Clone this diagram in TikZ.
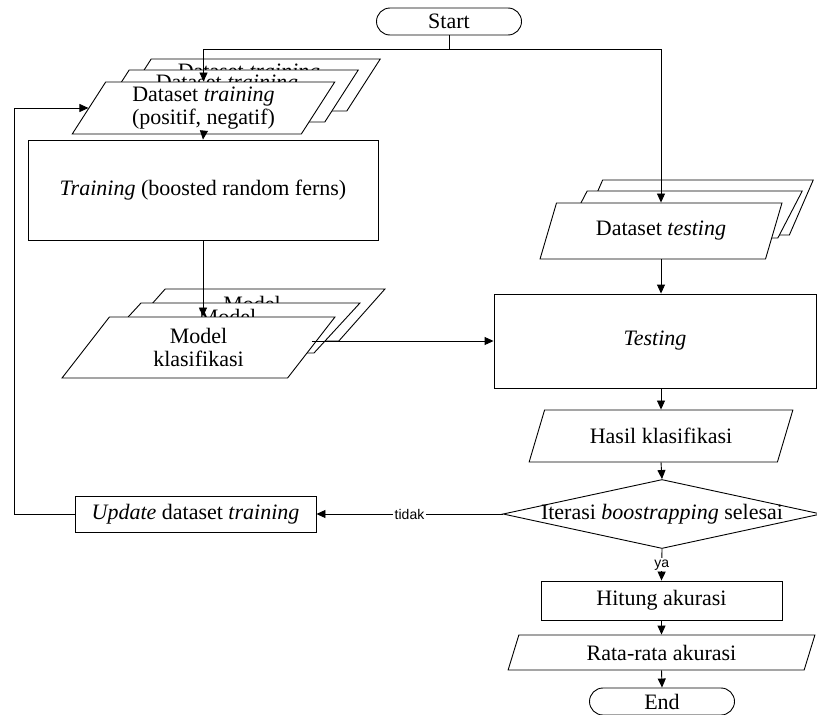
\documentclass[tikz,border=0pt]{standalone}
\usepackage{fontspec}
\setmainfont{Liberation Serif}
\newfontfamily\labsans{Liberation Sans}
\usetikzlibrary{shapes.geometric,arrows.meta}
\begin{document}
\begin{tikzpicture}[x=1pt,y=-1pt,
  base/.style={draw=black, line width=0.9pt, fill=white, font=\fontsize{22}{23}\selectfont, align=center, inner sep=0pt},
  proc/.style={base, rectangle},
  io/.style={base, trapezium, trapezium stretches=true},
  term/.style={base, rectangle, rounded corners=13.5pt, minimum width=145, minimum height=27},
  cond/.style={base, diamond, minimum width=318, minimum height=69},
  conn/.style={draw=black, line width=0.9pt},
  arr/.style={conn, -{Triangle[length=9pt,width=8pt]}},
  lab/.style={fill=white, inner sep=1.5pt, font=\labsans\fontsize{14}{16}\selectfont}
]
\useasboundingbox (0,0) rectangle (817,715);

% Start
\node[term] (start) at (449,21.5) {Start};

% Dataset training stack
\node[io, trapezium left angle=60, trapezium right angle=120, minimum width=263, minimum height=52] (dt3) at (249,85) {Dataset \textit{training}\\(positif, negatif)};
\node[io, trapezium left angle=60, trapezium right angle=120, minimum width=263, minimum height=52] (dt2) at (227,96) {Dataset \textit{training}\\(positif, negatif)};
\node[io, trapezium left angle=60, trapezium right angle=120, minimum width=263, minimum height=52] (dtf) at (203.5,108) {Dataset \textit{training}\\(positif, negatif)};

% Training
\node[proc, minimum width=350, minimum height=100] (train) at (203,190) {\textit{Training} (boosted random ferns)};

% Model stack
\node[io, trapezium left angle=58, trapezium right angle=122, minimum width=266, minimum height=52] (m3) at (252,315) {Model\\klasifikasi};
\node[io, trapezium left angle=58, trapezium right angle=122, minimum width=265, minimum height=50] (m2) at (227.5,328) {Model\\klasifikasi};
\node[io, trapezium left angle=58, trapezium right angle=122, minimum width=273, minimum height=61] (mf) at (198.5,347.5) {Model\\klasifikasi};

% Dataset testing stack
\node[io, trapezium left angle=60, trapezium right angle=120, minimum width=236, minimum height=55] (ds3) at (696,207.5) {\phantom{Dataset}};
\node[io, trapezium left angle=60, trapezium right angle=120, minimum width=241, minimum height=47] (ds2) at (682.5,214.5) {\phantom{Dataset}};
\node[io, trapezium left angle=62, trapezium right angle=118, minimum width=242, minimum height=56] (dsf) at (661,231) {Dataset \textit{testing}};

% Testing
\node[proc, minimum width=322, minimum height=94] (test) at (655,341) {\textit{Testing}};

% Hasil klasifikasi
\node[io, trapezium left angle=59, trapezium right angle=121, minimum width=264, minimum height=52] (hasil) at (661,436) {Hasil klasifikasi};

% Decision
\node[cond] (dec) at (662,514) {};
\node[font=\fontsize{22}{23}\selectfont, inner sep=0pt] (dectext) at (dec.center) {Iterasi \textit{boostrapping} selesai};

% Update
\node[proc, minimum width=241, minimum height=36] (upd) at (195.5,514) {\textit{Update} dataset \textit{training}};

% Hitung
\node[proc, minimum width=241, minimum height=39] (hit) at (661.5,600.5) {Hitung akurasi};

% Rata-rata
\node[io, trapezium left angle=70, trapezium right angle=110, minimum width=307, minimum height=35] (rata) at (661.5,652.5) {Rata-rata akurasi};

% End
\node[term] (end) at (662,701.5) {End};

% Connectors
\coordinate (split) at (449,49);
\coordinate (fb) at (14,514);
\draw[conn] (start.south) -- (split);
\draw[arr] (split) -| (dtf.north);
\draw[arr] (split) -| (dsf.north);
\draw[arr] (dtf.south) -- (train.north);
\draw[arr] (train.south) -- (train.south |- mf.north);
\draw[arr] (mf.east |- test.west) -- (test.west);
\draw[arr] (dsf.south) -- (dsf.south |- test.north);
\draw[arr] (hasil.north |- test.south) -- (hasil.north);
\draw[arr] (hasil.south) -- (dec.north);
\draw[arr] (dec.west) -- node[lab] {tidak} (upd.east);
\draw[arr] (dec.south) -- node[lab] {ya} (hit.north);
\draw[arr] (hit.south) -- (rata.north);
\draw[arr] (rata.south) -- (end.north);
\draw[arr] (upd.west) -- (fb) |- (dtf.west);
\end{tikzpicture}
\end{document}
